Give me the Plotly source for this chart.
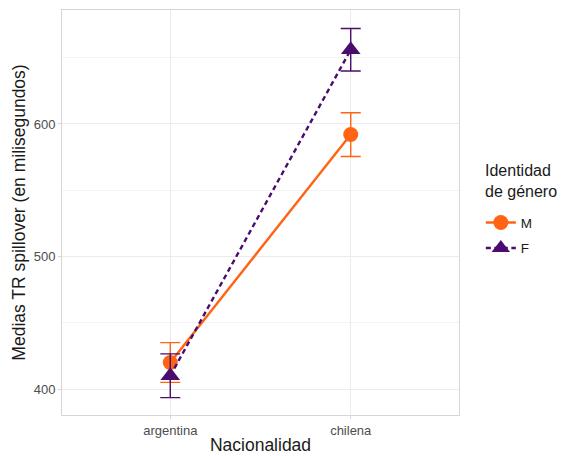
import plotly.graph_objects as go

nacionalidad = ["argentina", "chilena"]
genero = ["M", "F"]
medias_M = [420, 592]
err_M = [15, 16.5]
medias_F = [410, 656]
err_F = [16.5, 16]

colors = {"M": "#FF6414", "F": "#4A0C6E"}
symbols = {"M": "circle", "F": "triangle-up"}
dashes = {"M": "solid", "F": "5px,3.5px"}

fig = go.Figure()
for g, vals, errs in [("M", medias_M, err_M), ("F", medias_F, err_F)]:
    fig.add_trace(go.Scatter(
        x=nacionalidad, y=vals, name=g, mode="lines+markers", legendgroup=g,
        line=dict(color=colors[g], width=2.4, dash=dashes[g]),
        marker=dict(color=colors[g], symbol=symbols[g], size=15 if g == "M" else 17),
        error_y=dict(type="data", array=errs, visible=True, color=colors[g],
                     thickness=1.4, width=10),
    ))

grid = "#EBEBEB"
title_font = dict(size=17.5, color="#1A1A1A")
tick_font = dict(size=13, color="#4D4D4D")
fig.update_layout(
    width=557, height=448,
    margin=dict(l=54, r=106, t=2, b=41),
    plot_bgcolor="white", paper_bgcolor="white",
    font=dict(family="Liberation Sans, Arial, sans-serif", color="#000000"),
    xaxis=dict(
        type="category", range=[-0.6, 1.6],
        showgrid=True, gridcolor=grid, gridwidth=1,
        showline=True, mirror=True, linecolor="#D6D6D6", linewidth=1,
        ticks="outside", ticklen=3, tickcolor="#D6D6D6",
        tickfont=tick_font,
        title=dict(text="Nacionalidad", font=title_font, standoff=2),
        zeroline=False,
    ),
    yaxis=dict(
        range=[380.4, 686], tickvals=[400, 500, 600],
        showgrid=True, gridcolor=grid, gridwidth=1,
        minor=dict(tickvals=[450, 550, 650], showgrid=True, gridcolor="#F3F3F3", gridwidth=0.6),
        showline=True, mirror=True, linecolor="#D6D6D6", linewidth=1,
        ticks="outside", ticklen=3, tickcolor="#D6D6D6",
        tickfont=tick_font,
        title=dict(text="Medias TR spillover (en milisegundos)", font=title_font, standoff=3),
        zeroline=False,
    ),
    legend=dict(
        x=1.055, y=0.513, xanchor="left", yanchor="top",
        font=dict(size=13.5, color="#1A1A1A"),
        bgcolor="rgba(0,0,0,0)", itemwidth=30,
        traceorder="grouped", tracegroupgap=5,
    ),
    showlegend=True,
    annotations=[
        dict(text="Identidad<br>de género", xref="paper", yref="paper", x=1.0605, y=0.578,
             xanchor="left", yanchor="middle", align="left", showarrow=False,
             font=dict(size=16, color="#1A1A1A")),
    ],
)

fig.write_html("out.html")
